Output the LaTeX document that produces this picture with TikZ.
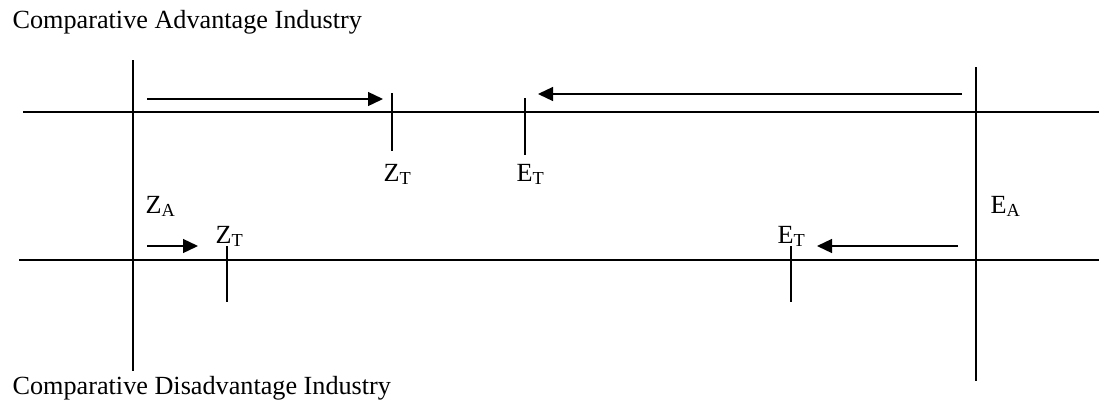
\documentclass[tikz,border=0pt]{standalone}
\usepackage{fontspec}
\setmainfont{Liberation Serif}
\usetikzlibrary{arrows.meta}

\begin{document}
\begin{tikzpicture}[x=1pt, y=-1pt, line width=1.3pt,
  lbl/.style={anchor=base west, inner sep=0pt, font=\fontsize{26.2}{30}\selectfont},
  move/.style={-{Triangle[length=15pt,width=14pt]}}]
\useasboundingbox (0,0) rectangle (1099,402);
% titles
\node[lbl] (adv) at (12,28) {Comparative Advantage Industry};
\node[lbl] (dis) at (12,394) {Comparative Disadvantage Industry};
% axes
\coordinate (ta-l) at (23,112);
\coordinate (ta-r) at (1099,112);
\coordinate (ba-l) at (19,260);
\coordinate (ba-r) at (1099,260);
\coordinate (za-t) at (133,60);
\coordinate (za-b) at (133,371);
\coordinate (ea-t) at (976,67);
\coordinate (ea-b) at (976,381);
\draw (ta-l) -- (ta-r);
\draw (ba-l) -- (ba-r);
\draw (za-t) -- (za-b);
\draw (ea-t) -- (ea-b);
\node[lbl] (za) at (145,213) {Z\textsubscript{A}};
\node[lbl] (ea) at (990,213) {E\textsubscript{A}};
% upper industry
\coordinate (zt1-t) at (392,93);
\coordinate (zt1-b) at (392,151);
\coordinate (et1-t) at (525,98);
\coordinate (et1-b) at (525,155);
\draw (zt1-t) -- (zt1-b);
\draw (et1-t) -- (et1-b);
\node[lbl] (zt1) at (383,181) {Z\textsubscript{T}};
\node[lbl] (et1) at (516,181) {E\textsubscript{T}};
\coordinate (m1-s) at (147,99);
\coordinate (m1-e) at (383,99);
\coordinate (m2-s) at (962,94);
\coordinate (m2-e) at (538,94);
\draw[move] (m1-s) -- (m1-e);
\draw[move] (m2-s) -- (m2-e);
% lower industry
\coordinate (zt2-t) at (227,246);
\coordinate (zt2-b) at (227,302);
\coordinate (et2-t) at (791,246);
\coordinate (et2-b) at (791,302);
\draw (zt2-t) -- (zt2-b);
\draw (et2-t) -- (et2-b);
\node[lbl] (zt2) at (215,243) {Z\textsubscript{T}};
\node[lbl] (et2) at (777,243) {E\textsubscript{T}};
\coordinate (m3-s) at (147,246);
\coordinate (m3-e) at (198,246);
\coordinate (m4-s) at (958,246);
\coordinate (m4-e) at (817,246);
\draw[move] (m3-s) -- (m3-e);
\draw[move] (m4-s) -- (m4-e);
\end{tikzpicture}
\end{document}
